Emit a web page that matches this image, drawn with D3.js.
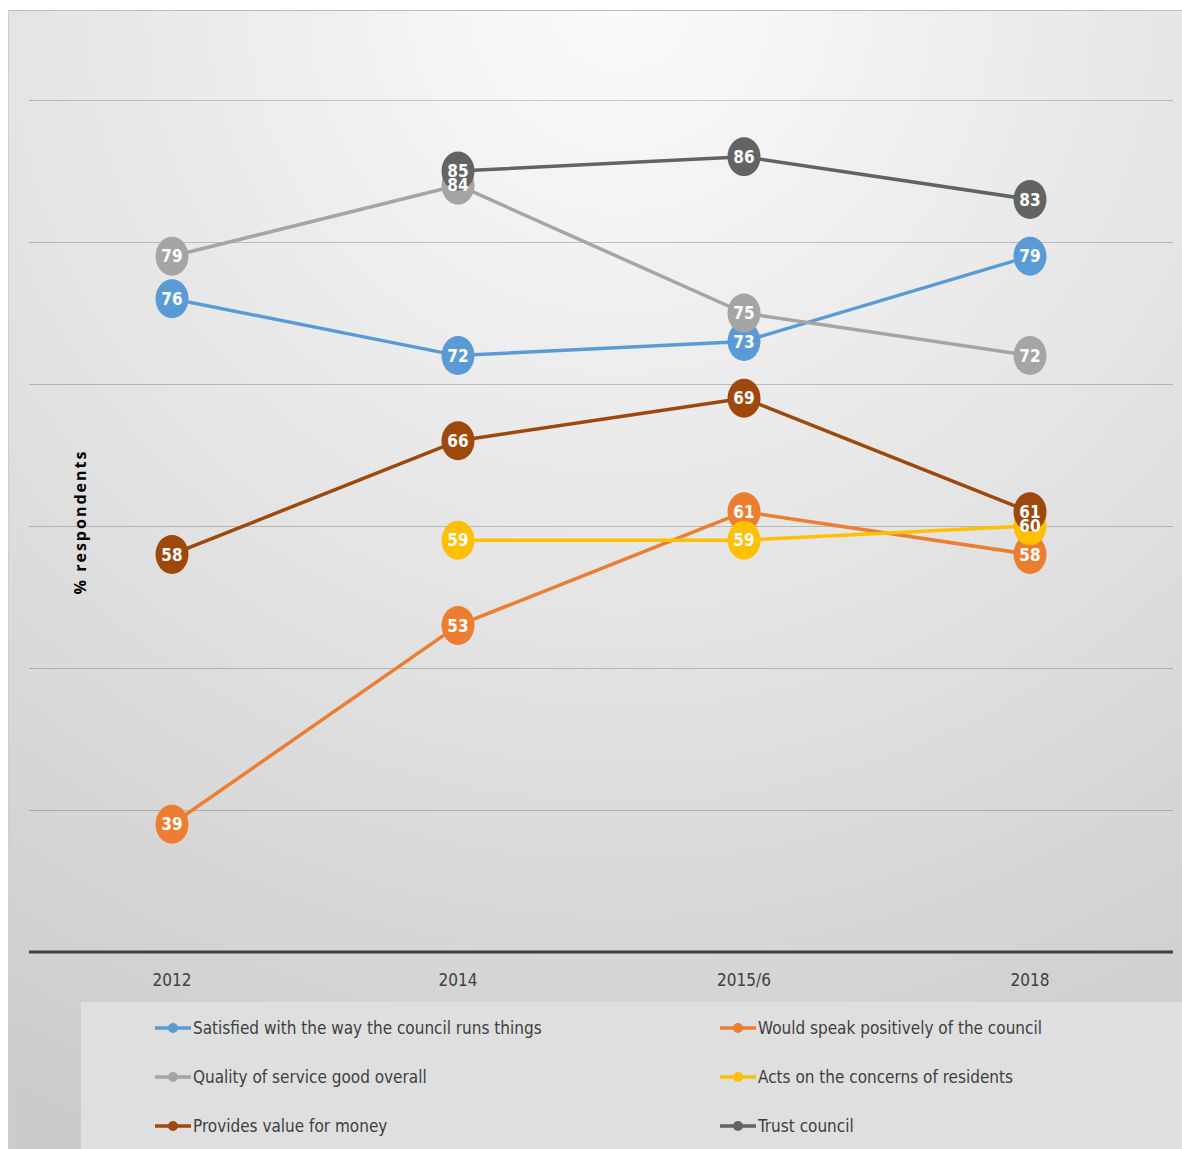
<!DOCTYPE html>
<html>
<head>
<meta charset="utf-8">
<script src="https://cdn.jsdelivr.net/npm/d3@7"></script>
<style>
  body { margin: 0; background: #ffffff; }
  svg { display: block; }
</style>
</head>
<body>
<div id="chart"></div>
<script>
// Daten
const years = ["2012", "2014", "2015/6", "2018"];
const satisfied = [76, 72, 73, 79];
const speakPositively = [39, 53, 61, 58];
const qualityService = [79, 84, 75, 72];
const actsOnConcerns = [null, 59, 59, 60];
const valueForMoney = [58, 66, 69, 61];
const trustCouncil = [null, 85, 86, 83];
const yTicks = [40, 50, 60, 70, 80, 90];

// Reihenfolge wie im Original (Zeichenreihenfolge = Legende zeilenweise)
const series = [
  { label: "Satisfied with the way the council runs things", values: satisfied, color: "#5b9bd5" },
  { label: "Would speak positively of the council", values: speakPositively, color: "#ed7d31" },
  { label: "Quality of service good overall", values: qualityService, color: "#a5a5a5" },
  { label: "Acts on the concerns of residents", values: actsOnConcerns, color: "#ffc000" },
  { label: "Provides value for money", values: valueForMoney, color: "#9e480e" },
  { label: "Trust council", values: trustCouncil, color: "#636363" },
];

const width = 1182, height = 1149;
const plot = { left: 29, right: 1173, top: 100, bottom: 952 };
const fontNarrow = "'Liberation Sans Narrow', 'DejaVu Sans Condensed', sans-serif";

const svg = d3.select("#chart").append("svg")
  .attr("width", width)
  .attr("height", height);

// Hintergrund
const defs = svg.append("defs");
const grad = defs.append("radialGradient")
  .attr("id", "bg")
  .attr("gradientUnits", "userSpaceOnUse")
  .attr("cx", 620).attr("cy", 0).attr("r", 1250);
grad.append("stop").attr("offset", 0).attr("stop-color", "#fbfbfb");
grad.append("stop").attr("offset", 0.45).attr("stop-color", "#e6e6e6");
grad.append("stop").attr("offset", 1).attr("stop-color", "#cbcbcb");

svg.append("rect")
  .attr("x", 8).attr("y", 10)
  .attr("width", width - 8).attr("height", height - 10)
  .attr("fill", "url(#bg)");
svg.append("line")
  .attr("x1", 8).attr("x2", width).attr("y1", 10.5).attr("y2", 10.5)
  .attr("stroke", "#bdbdbd");
svg.append("line")
  .attr("x1", 8.5).attr("x2", 8.5).attr("y1", 10).attr("y2", height)
  .attr("stroke", "#cfcfcf");

// Skalen
const x = d3.scalePoint()
  .domain(years)
  .range([plot.left, plot.right])
  .padding(0.5);

const y = d3.scaleLinear()
  .domain([30, 90])
  .range([plot.bottom, plot.top]);

// Gitterlinien
svg.append("g")
  .selectAll("line")
  .data(yTicks)
  .join("line")
  .attr("x1", plot.left).attr("x2", plot.right)
  .attr("y1", d => Math.round(y(d)) + 0.5)
  .attr("y2", d => Math.round(y(d)) + 0.5)
  .attr("stroke", "rgba(0,0,0,0.2)")
  .attr("stroke-width", 1);

// x-Achse
svg.append("line")
  .attr("x1", plot.left).attr("x2", plot.right)
  .attr("y1", y(30)).attr("y2", y(30))
  .attr("stroke", "#404040")
  .attr("stroke-width", 3);

svg.append("g")
  .selectAll("text")
  .data(years)
  .join("text")
  .attr("x", d => x(d))
  .attr("y", 986)
  .attr("text-anchor", "middle")
  .attr("font-family", fontNarrow)
  .attr("font-size", 17)
  .attr("fill", "#404040")
  .text(d => d);

// y-Achsentitel
svg.append("text")
  .attr("transform", `translate(86, 522) rotate(-90)`)
  .attr("text-anchor", "middle")
  .attr("font-family", "'Open Sans', sans-serif")
  .attr("font-weight", "bold")
  .attr("font-size", 16)
  .attr("letter-spacing", 2)
  .attr("fill", "#000")
  .text("% respondents");

// Linien + Marker
const line = d3.line()
  .defined(d => d.v != null)
  .x(d => x(d.year))
  .y(d => y(d.v));

const pointsOf = s => years.map((yr, i) => ({ year: yr, v: s.values[i] })).filter(d => d.v != null);

series.forEach(s => {
  const pts = years.map((yr, i) => ({ year: yr, v: s.values[i] }));
  const g = svg.append("g");

  g.append("path")
    .datum(pts)
    .attr("d", line)
    .attr("fill", "none")
    .attr("stroke", s.color)
    .attr("stroke-width", 3.5)
    .attr("stroke-linejoin", "round");

  g.selectAll("ellipse")
    .data(pointsOf(s))
    .join("ellipse")
    .attr("cx", d => x(d.year))
    .attr("cy", d => y(d.v))
    .attr("rx", 16.5)
    .attr("ry", 19.5)
    .attr("fill", s.color);
});

// Datenbeschriftungen (oberste Ebene, wie im Original)
const labels = svg.append("g");
series.forEach(s => {
  labels.append("g")
    .selectAll("text")
    .data(pointsOf(s))
    .join("text")
    .attr("x", d => x(d.year))
    .attr("y", d => y(d.v))
    .attr("dy", "0.36em")
    .attr("text-anchor", "middle")
    .attr("font-family", fontNarrow)
    .attr("font-weight", "bold")
    .attr("font-size", 17)
    .attr("fill", "#ffffff")
    .text(d => d.v);
});

// Legende
const legend = svg.append("g");
legend.append("rect")
  .attr("x", 81).attr("y", 1002)
  .attr("width", width - 81).attr("height", height - 1002)
  .attr("fill", "#dfdfdf");

const legCols = [155, 720];
const legRows = [1028, 1077, 1126];

const items = legend.selectAll("g.item")
  .data(series)
  .join("g")
  .attr("class", "item")
  .attr("transform", (d, i) => `translate(${legCols[i % 2]}, ${legRows[Math.floor(i / 2)]})`);

items.append("line")
  .attr("x1", 0).attr("x2", 36)
  .attr("stroke", d => d.color)
  .attr("stroke-width", 3.5);

items.append("circle")
  .attr("cx", 18)
  .attr("r", 5)
  .attr("fill", d => d.color);

items.append("text")
  .attr("x", 38)
  .attr("dy", "0.35em")
  .attr("font-family", fontNarrow)
  .attr("font-size", 17)
  .attr("fill", "#404040")
  .text(d => d.label);
</script>
</body>
</html>
